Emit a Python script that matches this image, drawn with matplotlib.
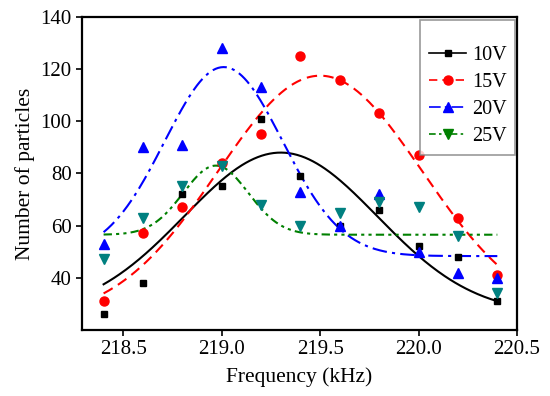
import numpy as np
import matplotlib.pyplot as plt
from matplotlib.lines import Line2D

plt.rcParams['font.family'] = ['Liberation Serif', 'DejaVu Serif']
plt.rcParams['mathtext.fontset'] = 'stix'

freq = [218.4, 218.6, 218.8, 219.0, 219.2, 219.4, 219.6, 219.8, 220.0, 220.2, 220.4]

n_10v = [26, 38, 72, 75, 101, 79, 60, 66, 52, 48, 31]
n_15v = [31, 57, 67, 84, 95, 125, 116, 103, 87, 63, 41]
n_20v = [53, 90, 91, 128, 113, 73, 60, 72, 50, 42, 40]
n_25v = [47, 63, 75, 83, 68, 60, 65, 69, 67, 56, 34]

# Gaussian fit parameters (y0, A, xc, w)
fit_10v = (26.0, 62.0, 219.30, 0.49)
fit_15v = (24.0, 93.5, 219.50, 0.52)
fit_20v = (48.3, 72.5, 219.01, 0.30)
fit_25v = (56.5, 26.5, 218.97, 0.165)

labels = ['10V', '15V', '20V', '25V']
line_colors = ['black', 'red', 'blue', 'green']
marker_colors = ['black', 'red', 'blue', '#008080']
markers = ['s', 'o', '^', 'v']
marker_sizes = [5, 6.5, 7, 7]
styles = ['-', (0, (5, 3)), (0, (7, 2.5, 1.5, 2.5)), (0, (4, 2, 1.5, 2, 1.5, 2))]


def gauss(x, y0, a, xc, w):
    return y0 + a * np.exp(-(x - xc) ** 2 / (2 * w ** 2))


fig = plt.figure(figsize=(5.5, 3.96), dpi=100)
ax = fig.add_axes([0.149, 0.167, 0.791, 0.790])

xs = np.linspace(freq[0], freq[-1], 300)
data = [n_10v, n_15v, n_20v, n_25v]
fits = [fit_10v, fit_15v, fit_20v, fit_25v]

for fit, c, ls in zip(fits, line_colors, styles):
    ax.plot(xs, gauss(xs, *fit), color=c, linestyle=ls, linewidth=1.5)

for vals, mc, m, ms in zip(data, marker_colors, markers, marker_sizes):
    ax.plot(freq, vals, linestyle='none', marker=m, color=mc, markersize=ms)

ax.set_xlim(218.29, 220.5)
ax.set_ylim(20, 140)
ax.set_xticks([218.5, 219.0, 219.5, 220.0, 220.5])
ax.set_xticklabels(['218.5', '219.0', '219.5', '220.0', '220.5'])
ax.set_yticks([40, 60, 80, 100, 120, 140])
ax.tick_params(direction='out', length=4, width=1.2, labelsize=15)
for s in ax.spines.values():
    s.set_linewidth(1.6)

ax.set_xlabel('Frequency (kHz)', fontsize=15.5, labelpad=6)
ax.set_ylabel('Number of particles', fontsize=15.5, labelpad=4)

handles = [Line2D([0], [0], color=lc, linestyle=ls, linewidth=1.2,
                  marker=m, markersize=ms, markerfacecolor=lc, markeredgecolor=lc)
           for lc, ls, m, ms in zip(line_colors, styles, markers, marker_sizes)]
leg = ax.legend(handles, labels, loc='upper right', fontsize=14.5, frameon=True,
                fancybox=False, edgecolor='gray', handlelength=1.85, handletextpad=0.3,
                borderpad=0.42, labelspacing=0.4, bbox_to_anchor=(0.996, 0.99),
                borderaxespad=0, title=' ', title_fontsize=7)
leg.get_frame().set_linewidth(1.2)

fig.savefig('out.png', dpi=100)
